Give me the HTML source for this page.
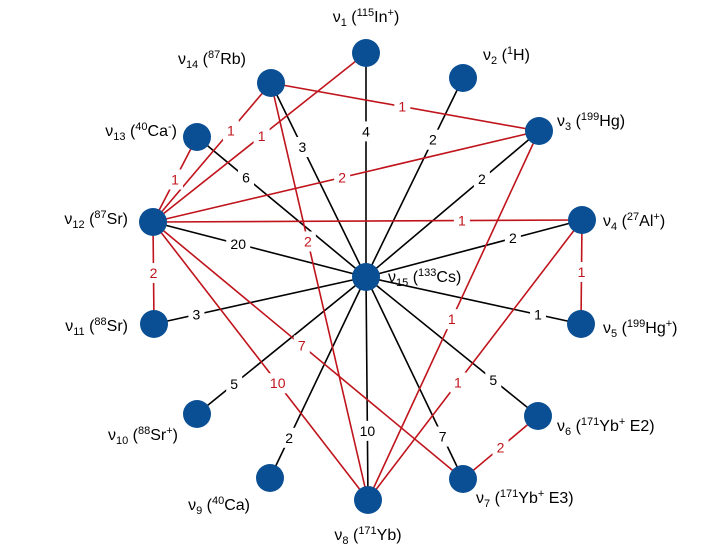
<!DOCTYPE html>
<html><head><meta charset="utf-8"><style>
html,body{margin:0;padding:0;background:#fff;}
svg{display:block;font-family:"Liberation Sans",sans-serif;}
</style></head><body>
<svg id="chart" width="718" height="554" viewBox="0 0 718 554" xmlns="http://www.w3.org/2000/svg">
<g id="edges"></g>
<g id="elabels"></g>
<g id="nodes"></g>
<g id="nlabels"></g>
</svg>
<script>
// data
const nodeIds = [1,2,3,4,5,6,7,8,9,10,11,12,13,14,15];
const nodeSpecies = ["115|In|+","1|H|","199|Hg|","27|Al|+","199|Hg|+","171|Yb|+ E2","171|Yb|+ E3","171|Yb|","40|Ca|","88|Sr|+","88|Sr|","87|Sr|","40|Ca|-","87|Rb|","133|Cs|"];
const edgeFrom = [15,15,15,15,15,15,15,15,15,15,15,15,15,15, 14,12,12,12,12,12,12,12,12,14,3,4,4,6];
const edgeTo   = [1,2,3,4,5,6,7,8,9,10,11,12,13,14, 3,1,14,13,3,4,11,7,8,8,8,8,5,7];
const edgeWeight = [4,2,2,2,1,5,7,10,2,5,3,20,6,3, 1,1,1,1,2,1,2,7,10,2,1,1,1,2];
const edgeKind = ["b","b","b","b","b","b","b","b","b","b","b","b","b","b","r","r","r","r","r","r","r","r","r","r","r","r","r","r"];
// layout (not data)
const layoutX = [366,463,539,582,581,538,463,368,270,197,154,153,197,271,366];
const layoutY = [53,78,131,220,324,416,479,500,478,414,324,222,137,83,277];
const labelT = [0.65,0.69,0.67,0.68,0.8,0.74,0.79,0.69,0.8,0.78,0.8,0.6,0.71,0.67, 0.49,0.51,0.66,0.5,0.49,0.72,0.5,0.48,0.58,0.38,0.51,0.58,0.5,0.5];
const nlPos = [[366,22,"middle"],[483,60,"start"],[557,126,"start"],[603,226,"start"],[603,333,"start"],[557,431,"start"],[476,503,"start"],[368,540,"middle"],[250,510,"end"],[178,440,"end"],[128,331,"end"],[128,224,"end"],[177,136,"end"],[246,64,"end"],[388,282,"start"]];
const NS="http://www.w3.org/2000/svg";
function mk(t,a){const e=document.createElementNS(NS,t);for(const k in a)e.setAttribute(k,a[k]);return e;}
const gE=document.getElementById('edges'),gL=document.getElementById('elabels'),gN=document.getElementById('nodes'),gNL=document.getElementById('nlabels');
function px(id){return layoutX[nodeIds.indexOf(id)];}
function py(id){return layoutY[nodeIds.indexOf(id)];}
edgeFrom.forEach((f,i)=>{
  const t=edgeTo[i],col=edgeKind[i]==="b"?"#000":"#c0141c";
  const x1=px(f),y1=py(f),x2=px(t),y2=py(t);
  const ln=mk('line',{x1:x1,y1:y1,x2:x2,y2:y2,stroke:col,'stroke-width':1.6});
  
  
  gE.appendChild(ln);
  const lx=x1+(x2-x1)*labelT[i],ly=y1+(y2-y1)*labelT[i];
  const s=String(edgeWeight[i]);const w=s.length*8+8;
  const bg=mk('rect',{x:lx-w/2,y:ly-10,width:w,height:20,fill:'#fff'});
  
  
  gL.appendChild(bg);
  const tx=mk('text',{x:lx,y:ly+5,'text-anchor':'middle','font-size':14,fill:col});
  tx.textContent=s;
  
  
  gL.appendChild(tx);
});
nodeIds.forEach((id,i)=>{
  const c=mk('circle',{cx:layoutX[i],cy:layoutY[i],r:14,fill:'#0a4f93'});
  
  
  gN.appendChild(c);
  const p=nlPos[i],sp=nodeSpecies[i].split("|");
  const t=mk('text',{x:p[0],y:p[1],'text-anchor':p[2],'font-size':16,fill:'#000'});
  
  
  t.innerHTML='ν<tspan font-size="11" dy="4">'+id+'</tspan><tspan dy="-4"> (</tspan><tspan font-size="11" dy="-6">'+sp[0]+'</tspan><tspan dy="6">'+sp[1]+'</tspan>'+
    (sp[2]?(sp[2][0]==="+"||sp[2][0]==="-"?'<tspan font-size="11" dy="-6">'+sp[2][0]+'</tspan><tspan dy="6">'+sp[2].slice(1)+')</tspan>':'<tspan>'+sp[2]+')</tspan>'):'<tspan>)</tspan>');
  gNL.appendChild(t);
});
</script>
</body></html>
